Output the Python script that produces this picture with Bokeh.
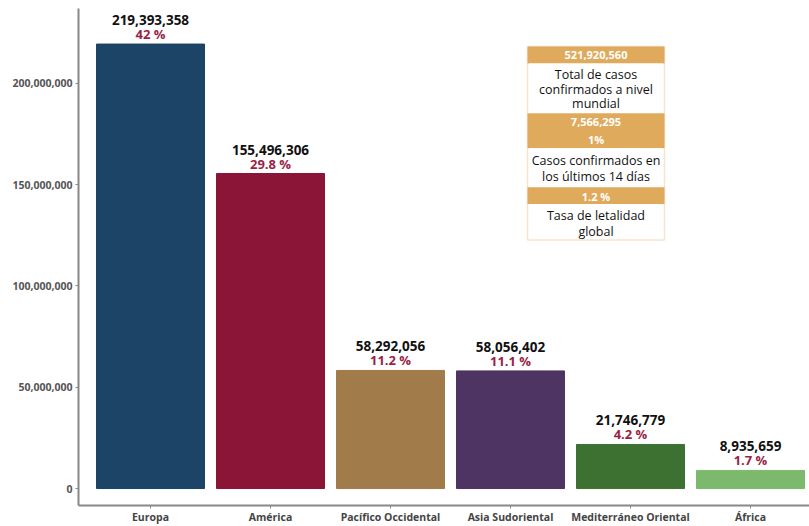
from bokeh.plotting import figure
from bokeh.models import ColumnDataSource, Range1d, FixedTicker, NumeralTickFormatter, BoxAnnotation, Label
from bokeh.embed import file_html
from bokeh.resources import INLINE
from bokeh.core.properties import value

regions = ["Europa", "América", "Pacífico Occidental", "Asia Sudoriental", "Mediterráneo Oriental", "África"]
cases = [219393358, 155496306, 58292056, 58056402, 21746779, 8935659]
shares = ["42 %", "29.8 %", "11.2 %", "11.1 %", "4.2 %", "1.7 %"]
colors = ["#1b4467", "#8a1537", "#a27b4b", "#4d3463", "#3d7131", "#7cb96c"]
y_ticks = [0, 50000000, 100000000, 150000000, 200000000]

FONT = "Open Sans"
ORANGE = "#e0aa5c"

xs = list(range(len(regions)))
src = ColumnDataSource(dict(x=xs, top=cases, color=colors, share=shares,
                            label=[f"{v:,}" for v in cases]))

# layout calibration: 120 px per category, 101.5 px per 50M
PX_CAT = 120.0
PX_50M = 101.5
LEFT = 78          # frame left (page px)
TOP = 8            # frame top (page px)
ZERO = 489         # page y of value 0
FRAME_BOTTOM = 506
W, H = 809, 526
frame_w = W - LEFT
x0 = -0.6
y0 = -((FRAME_BOTTOM - ZERO) / PX_50M) * 50e6
y1 = ((ZERO - TOP) / PX_50M) * 50e6
p = figure(width=W, height=H, output_backend="svg", toolbar_location=None,
           x_range=Range1d(x0, x0 + frame_w / PX_CAT),
           y_range=Range1d(y0, y1),
           min_border_left=LEFT, min_border_right=0, min_border_top=TOP, min_border_bottom=0)
p.outline_line_color = None
p.grid.visible = False
p.background_fill_color = "white"

p.vbar(x="x", top="top", bottom=0, width=0.9, color="color", source=src)

p.text(x="x", y="top", text="share", source=src, text_align="center", text_baseline="bottom",
       y_offset=-1, text_font=value(FONT), text_font_style="bold", text_font_size="13px",
       text_color="#9a1f47")
p.text(x="x", y="top", text="label", source=src, text_align="center", text_baseline="bottom",
       y_offset=-19, text_font=value(FONT), text_font_style="bold", text_font_size="13.5px",
       text_color="#111111")

# axes
p.yaxis.ticker = FixedTicker(ticks=y_ticks)
p.yaxis.formatter = NumeralTickFormatter(format="0,0")
p.yaxis.major_label_text_font = FONT
p.yaxis.major_label_text_font_style = "bold"
p.yaxis.major_label_text_font_size = "10.5px"
p.yaxis.major_label_text_color = "#555555"
p.yaxis.axis_line_color = "#888888"
p.yaxis.axis_line_width = 2
p.yaxis.major_tick_line_color = "#888888"
p.yaxis.major_tick_in = 0
p.yaxis.major_tick_out = 3
p.yaxis.minor_tick_line_color = None
p.yaxis.major_label_standoff = 3

p.xaxis.ticker = FixedTicker(ticks=xs)
p.xaxis.major_label_overrides = {i: r for i, r in enumerate(regions)}
p.xaxis.major_label_text_font = FONT
p.xaxis.major_label_text_font_style = "bold"
p.xaxis.major_label_text_font_size = "10.5px"
p.xaxis.major_label_text_color = "#444444"
p.xaxis.axis_line_color = "#888888"
p.xaxis.axis_line_width = 2
p.xaxis.major_tick_line_color = "#888888"
p.xaxis.major_tick_in = 0
p.xaxis.major_tick_out = 3
p.xaxis.minor_tick_line_color = None
p.xaxis.major_label_standoff = 1

# summary box (positions given in page pixels, converted to data units)
def dx(px):
    return x0 + (px - LEFT) / PX_CAT

def dy(py):
    return (ZERO - py) / PX_50M * 50e6

bands = [(46, 63), (113, 148), (187, 204)]
whites = [(63, 113), (148, 187), (204, 240)]
L, R = 527, 664
for (t, b) in bands:
    p.add_layout(BoxAnnotation(left=dx(L), right=dx(R), top=dy(t), bottom=dy(b),
                               fill_color=ORANGE, fill_alpha=1, line_color=None))
for (t, b) in whites:
    p.add_layout(BoxAnnotation(left=dx(L + 1.5), right=dx(R - 1.5), top=dy(t), bottom=dy(b - 1.5),
                               fill_color="white", fill_alpha=1, line_color=None))
p.add_layout(BoxAnnotation(left=dx(L), right=dx(R), top=dy(46), bottom=dy(240),
                           fill_alpha=0, line_color=ORANGE, line_width=1.5))

cx = dx((L + R) / 2)
header_lines = [(54.5, "521,920,560"), (122, "7,566,295"), (139, "1%"), (196, "1.2 %")]
for py, t in header_lines:
    p.add_layout(Label(x=cx, y=dy(py), text=t, text_align="center", text_baseline="middle",
                       text_font=FONT, text_font_style="bold", text_font_size="11px",
                       text_color="white"))
body_lines = [(74, "Total de casos"), (89, "confirmados a nivel"), (103, "mundial"),
              (160, "Casos confirmados en"), (176, "los últimos 14 días"),
              (215, "Tasa de letalidad"), (231, "global")]
for py, t in body_lines:
    p.add_layout(Label(x=cx, y=dy(py), text=t, text_align="center", text_baseline="middle",
                       text_font=FONT, text_font_size="12.5px", text_color="#111111"))

open("out.html", "w").write(file_html(p, INLINE))
